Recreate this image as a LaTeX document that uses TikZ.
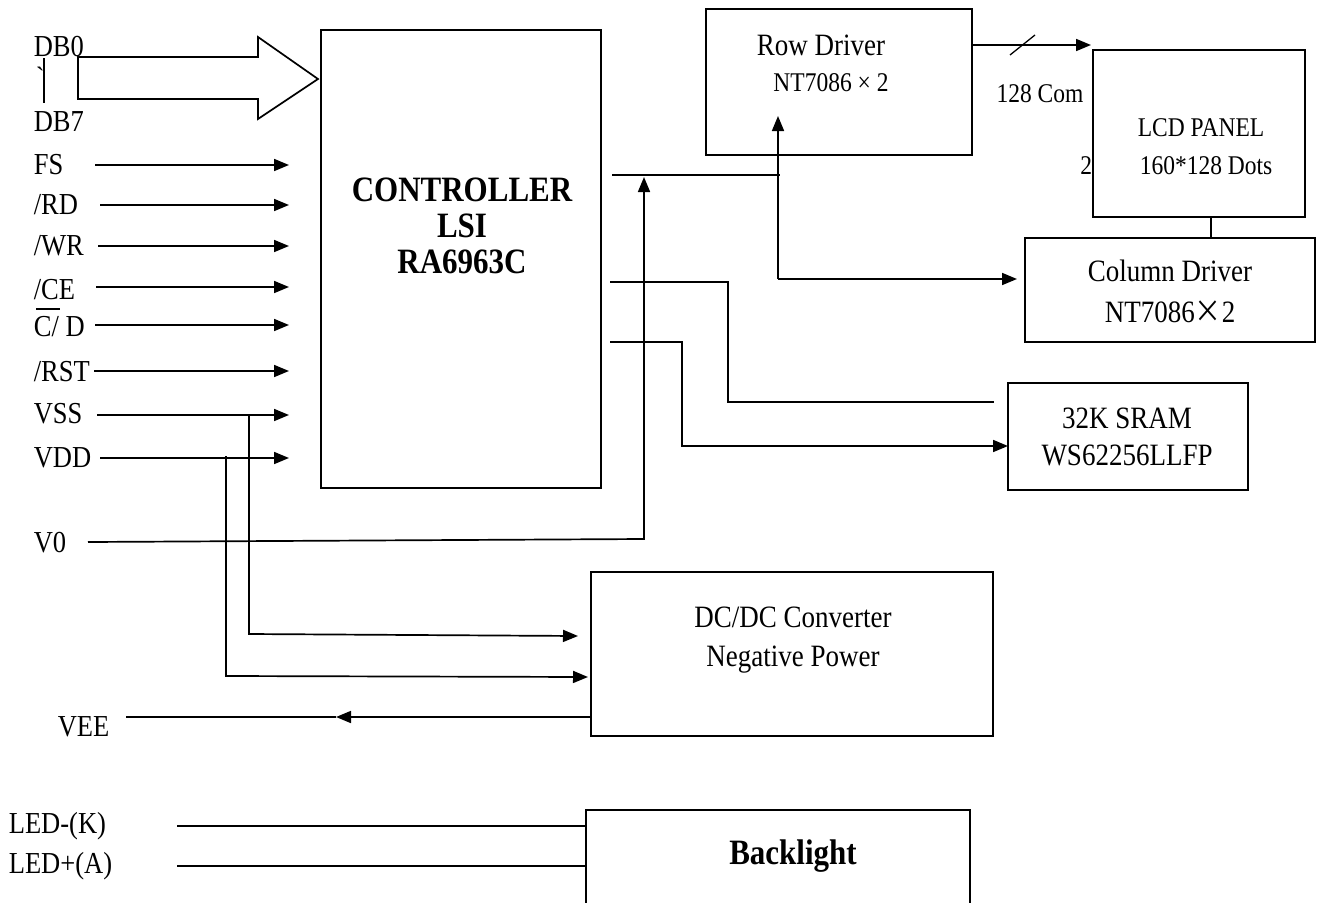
\documentclass[tikz,border=0pt]{standalone}
\usepackage{fontspec}
\setmainfont{Liberation Serif}
\newfontfamily\cjkfont{Noto Sans CJK SC}
\usetikzlibrary{arrows.meta}
\newcommand\vst[1]{\scalebox{1}[1.15]{#1}}
\begin{document}
\begin{tikzpicture}[x=1pt,y=-1pt,line width=1.7pt,
  tip/.style={-{Triangle[length=15pt,width=12pt]}},
  box/.style={draw,line width=1.7pt,anchor=north west,inner sep=0pt,outer sep=0pt},
  lbl/.style={font=\fontsize{26.5}{30}\selectfont,inner sep=0pt,anchor=west},
  txt/.style={font=\fontsize{27}{30}\selectfont,inner sep=0pt},
  stxt/.style={font=\fontsize{23.5}{27}\selectfont,inner sep=0pt},
  btxt/.style={font=\bfseries\fontsize{31}{34}\selectfont,inner sep=0pt}]
\useasboundingbox (0,0) rectangle (1338,902);
\fill[white] (0,0) rectangle (1338,902);

% boxes
\node[box,minimum width=280pt,minimum height=458pt] (ctrl) at (321,30) {};
\node[box,minimum width=266pt,minimum height=146pt] (row) at (706,9) {};
\node[box,minimum width=212pt,minimum height=167pt] (lcd) at (1093,50) {};
\node[box,minimum width=290pt,minimum height=104pt] (col) at (1025,238) {};
\node[box,minimum width=240pt,minimum height=107pt] (sram) at (1008,383) {};
\node[box,minimum width=402pt,minimum height=164pt] (dc) at (591,572) {};
\draw (586,910) -- (586,810) -- (970,810) -- (970,910);

% box texts
\node[btxt] (t1) at (462,190) {\vst{CONTROLLER}};
\node[btxt] (t2) at (462,226) {\vst{LSI}};
\node[btxt] (t3) at (462,262) {\vst{RA6963C}};
\node[txt] (r1) at (821,45) {\vst{Row Driver}};
\node[stxt] (r2) at (831,83) {\vst{NT7086 × 2}};
\node[stxt] (l1) at (1201,128) {\vst{LCD PANEL}};
\node[stxt] (l2) at (1206,166) {\vst{160*128 Dots}};
\node[stxt,anchor=east] (two) at (1093,166) {\vst{2}};
\node[txt] (c1) at (1170,271) {\vst{Column Driver}};
\node[txt] (c2) at (1170,312) {\vst{NT7086{\cjkfont ×}2}};
\node[txt] (s1) at (1127,418) {\vst{32K SRAM}};
\node[txt] (s2) at (1127,455) {\vst{WS62256LLFP}};
\node[txt] (d1) at (793,617) {\vst{DC/DC Converter}};
\node[txt] (d2) at (793,660) {\vst{Negative Power}};
\node[btxt] (bl) at (793,856) {\vst{Backlight}};
\node[stxt] (com) at (1040,94) {\vst{128 Com}};

% left labels
\node[lbl] (db0) at (33,47) {\vst{DB0}};
\node[lbl,anchor=base west] (tick) at (35,85) {\textasciigrave};
\draw[line width=1.3pt] (44,58) -- (44,103);
\node[lbl] (db7) at (33,122) {\vst{DB7}};
\node[lbl] (fs) at (33,165) {\vst{FS}};
\node[lbl] (rd) at (33,205) {\vst{/RD}};
\node[lbl] (wr) at (33,246) {\vst{/WR}};
\node[lbl] (ce) at (33,290) {\vst{/CE}};
\node[lbl] (cd) at (33,327) {\vst{C/ D}};
\draw[line width=1.3pt] (36,309) -- (60,309);
\node[lbl] (rst) at (33,372) {\vst{/RST}};
\node[lbl] (vss) at (33,414) {\vst{VSS}};
\node[lbl] (vdd) at (33,458) {\vst{VDD}};
\node[lbl] (v0) at (33,543) {\vst{V0}};
\node[lbl] (vee) at (57,727) {\vst{VEE}};
\node[lbl] (ledk) at (8,826) {\vst{LED-(K)}};
\node[lbl] (leda) at (8,866) {\vst{LED+(A)}};

% bus arrow
\draw (78,57) -- (258,57) -- (258,37) -- (318,79) -- (258,119) -- (258,99) -- (78,99) -- cycle;

% signal arrows
\foreach \n/\xs/\y in {fs/95/165, rd/100/205, wr/98/246, ce/96/287, cd/95/325, rst/94/371, vss/97/415, vdd/100/458}{
  \coordinate (\n a) at (\xs,\y);
  \coordinate (\n b) at (289,\y);
  \draw[tip] (\n a) -- (\n b);
}

% VSS / VDD to DC/DC
\coordinate (vssd) at (249,415);
\coordinate (vddd) at (226,456);
\draw[tip] (vssd) -- (249,634) -- (578,636);
\draw[tip] (vddd) -- (226,676) -- (588,677);

% V0
\coordinate (v0a) at (88,542);
\coordinate (v0t) at (644,177);
\draw[tip] (v0a) -- (644,539) -- (v0t);

% controller to drivers
\coordinate (cr) at (612,175);
\coordinate (rowin) at (778,116);
\coordinate (cj) at (778,279);
\draw (cr) -- (780,175);
\draw[tip] (cj) -- (rowin);
\draw[tip] (cj) -- (1017,279);

% controller to SRAM
\coordinate (cs1) at (610,282);
\coordinate (cs2) at (610,342);
\draw (cs1) -- (728,282) -- (728,402) -- (994,402);
\draw[tip] (cs2) -- (682,342) -- (682,446) -- (1008,446);

% row driver to LCD
\coordinate (lcdin) at (1091,45);
\draw[tip] (row.east |- lcdin) -- (lcdin);
\draw[line width=1.3pt] (1010,55) -- (1035,35);
\draw (lcd.south -| 1211,0) -- (col.north -| 1211,0);

% VEE
\coordinate (veem) at (336,717);
\coordinate (veeend) at (126,717);
\draw[tip] (dc.west |- veem) -- (veem);
\draw (veem) -- (veeend);

% backlight leads
\draw (177,826) -- (586,826);
\draw (177,866) -- (586,866);
\end{tikzpicture}
\end{document}
